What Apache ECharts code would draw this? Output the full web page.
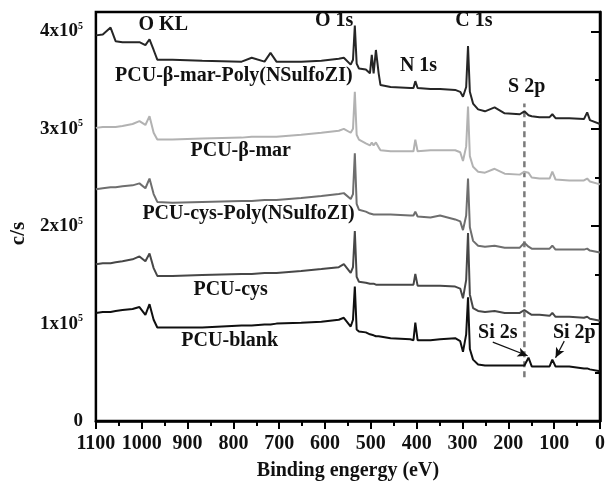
<!DOCTYPE html>
<html>
<head>
<meta charset="utf-8">
<script src="https://cdn.jsdelivr.net/npm/echarts@6/dist/echarts.min.js"></script>
<style>
  html,body{margin:0;padding:0;background:#fff;}
  #chart{width:608px;height:486px;}
</style>
</head>
<body>
<div id="chart"></div>
<script>
// binding energy grid (eV), shared by every spectrum
const energy = [1100,1085,1068,1057,1042,1020,1005,992,983,974,966,933,868,782,760,732,719,706,652,608,
  570,559,544,539,535,531,526,511,502,498,494,489,483,479,457,414,407,403,398,370,349,316,305,299,292,288,
  284,277,266,251,230,208,175,165,156,149,132,110,104,97,67,35,28,22,0];

// intensities in units of 1x10^5 c/s
const betaMarPoly = [3.96,3.97,4.04,3.90,3.89,3.89,3.89,3.86,3.92,3.81,3.71,3.71,3.70,3.69,3.73,3.69,3.78,3.69,3.69,3.70,
  3.72,3.73,3.66,3.71,4.06,3.67,3.62,3.61,3.57,3.76,3.57,3.81,3.57,3.45,3.43,3.42,3.42,3.49,3.42,3.41,3.41,3.40,3.38,3.33,3.43,3.85,
  3.38,3.26,3.20,3.18,3.22,3.16,3.15,3.18,3.14,3.13,3.12,3.12,3.15,3.11,3.11,3.10,3.17,3.09,3.05];
const betaMar = [3.01,3.02,3.02,3.02,3.03,3.05,3.08,3.04,3.13,2.96,2.89,2.89,2.90,2.91,2.92,2.92,2.92,2.92,2.94,2.96,
  2.98,3.00,2.96,3.00,3.38,2.94,2.89,2.85,2.83,2.86,2.83,2.86,2.81,2.78,2.77,2.77,2.77,2.89,2.77,2.78,2.78,2.78,2.76,2.67,2.82,3.23,
  2.72,2.61,2.56,2.55,2.59,2.54,2.53,2.56,2.55,2.50,2.49,2.49,2.56,2.48,2.47,2.47,2.49,2.46,2.43];
const cysPoly = [2.38,2.39,2.40,2.40,2.41,2.42,2.44,2.39,2.49,2.33,2.25,2.24,2.25,2.26,2.26,2.27,2.27,2.27,2.29,2.31,
  2.33,2.34,2.28,2.33,2.75,2.23,2.17,2.15,2.13,2.13,2.12,2.12,2.12,2.12,2.12,2.11,2.11,2.15,2.10,2.09,2.11,2.07,2.05,1.96,2.11,2.49,
  1.99,1.85,1.80,1.79,1.80,1.78,1.78,1.83,1.79,1.77,1.77,1.77,1.80,1.76,1.76,1.76,1.77,1.75,1.73];
const cys = [1.61,1.62,1.62,1.63,1.64,1.66,1.69,1.64,1.72,1.57,1.49,1.49,1.50,1.51,1.51,1.52,1.52,1.52,1.54,1.56,
  1.58,1.61,1.52,1.58,1.95,1.48,1.43,1.42,1.41,1.41,1.41,1.40,1.40,1.40,1.40,1.40,1.40,1.51,1.39,1.39,1.39,1.38,1.36,1.26,1.45,1.93,
  1.30,1.16,1.13,1.12,1.13,1.11,1.11,1.14,1.11,1.09,1.09,1.08,1.11,1.07,1.07,1.06,1.07,1.05,1.03];
const blank = [1.11,1.12,1.12,1.13,1.14,1.15,1.17,1.09,1.20,1.04,0.96,0.96,0.96,0.98,0.98,0.99,0.99,1.00,1.01,1.02,
  1.04,1.06,0.97,1.04,1.38,0.94,0.92,0.91,0.89,0.89,0.88,0.87,0.87,0.86,0.85,0.84,0.83,1.01,0.83,0.83,0.84,0.85,0.82,0.71,0.89,1.27,
  0.74,0.63,0.58,0.57,0.57,0.57,0.57,0.57,0.65,0.56,0.56,0.56,0.63,0.56,0.56,0.54,0.54,0.53,0.51];

const seriesNames = ["PCU-β-mar-Poly(NSulfoZI)","PCU-β-mar","PCU-cys-Poly(NSulfoZI)","PCU-cys","PCU-blank"];
const seriesValues = [betaMarPoly, betaMar, cysPoly, cys, blank];
const seriesColors = ["#262626","#b2b2b2","#6e6e6e","#474747","#101010"];

// S 2p reference line
const s2pLine = [[165,0.45],[165,3.26]];
// Si arrows: [from, to]
const siArrows = [[[234,0.81],[158,0.67]], [[78,0.82],[97,0.65]]];

// annotation texts and their anchors (eV, 1x10^5 c/s)
const noteTexts = ["O KL","O 1s","C 1s","N 1s","S 2p","PCU-β-mar-Poly(NSulfoZI)","PCU-β-mar",
  "PCU-cys-Poly(NSulfoZI)","PCU-cys","PCU-blank","Si 2s","Si 2p"];
const noteE = [953,580,275,396,160,799,784,767,806,808,223,56];
const noteV = [4.07,4.11,4.11,3.65,3.43,3.54,2.77,2.13,1.35,0.82,0.91,0.91];

const FONT = "Liberation Serif";
const chart = echarts.init(document.getElementById("chart"));
const txt = {fontFamily:FONT, fontWeight:"bold", color:"#111"};

chart.setOption({
  animation:false,
  backgroundColor:"#fff",
  grid:{left:93,right:7,top:12,bottom:58,show:true,borderColor:"#000",borderWidth:2.5,backgroundColor:"transparent"},
  xAxis:[
    {type:"value",inverse:true,min:0,max:1100,interval:100,
      name:"Binding engergy (eV)",nameLocation:"middle",nameGap:40,nameTextStyle:{...txt,fontSize:20},
      axisLine:{lineStyle:{color:"#000",width:2.5}},axisTick:{length:8,lineStyle:{color:"#000",width:2}},
      axisLabel:{...txt,fontSize:20,margin:13,formatter:v => String(v)},splitLine:{show:false}},
    {type:"value",inverse:true,min:0,max:1100,interval:50,position:"bottom",
      axisLine:{show:false},axisTick:{length:5,lineStyle:{color:"#000",width:2}},axisLabel:{show:false},splitLine:{show:false}}
  ],
  yAxis:[
    {type:"value",min:0,max:4.2,interval:1,
      name:"c/s",nameLocation:"middle",nameGap:60,nameTextStyle:{...txt,fontSize:21,padding:[0,34,0,0]},
      axisLine:{lineStyle:{color:"#000",width:2.5}},axisTick:{length:9,lineStyle:{color:"#000",width:2}},
      axisLabel:{...txt,fontSize:19,margin:13,
        formatter:v => v === 0 ? "0" : (Number.isInteger(v) ? v + "x10{s|5}" : ""),
        rich:{s:{...txt,fontSize:10,verticalAlign:"top",padding:[0,0,10,0]}}},
      splitLine:{show:false}},
    {type:"value",min:0,max:4.2,interval:0.5,position:"left",
      axisLine:{show:false},axisTick:{length:5,lineStyle:{color:"#000",width:2}},axisLabel:{show:false},splitLine:{show:false}}
  ],
  series:[
    ...seriesValues.map((vals,i) => ({
      name:seriesNames[i],type:"line",showSymbol:false,symbol:"none",
      lineStyle:{color:seriesColors[i],width:2},
      data:energy.map((e,j) => [e, vals[j]]),
      markLine: i === 4 ? {silent:true,symbol:["none","arrow"],symbolSize:[7,10],
        lineStyle:{color:"#111",width:1.2,type:"solid"},label:{show:false},
        data:siArrows.map(a => [{coord:a[0]},{coord:a[1]}])} : undefined
    })),
    {type:"line",symbol:"none",lineStyle:{color:"#7a7a7a",width:2.5,type:[6,4]},data:s2pLine,z:1},
    {type:"scatter",symbolSize:0,silent:true,itemStyle:{opacity:1},
      data:noteTexts.map((t,i) => ({value:[noteE[i], noteV[i]], name:t})),
      label:{show:true,position:"inside",formatter:p => p.name,...txt,fontSize:20,opacity:1,textBorderWidth:0}}
  ]
});
</script>
</body>
</html>
